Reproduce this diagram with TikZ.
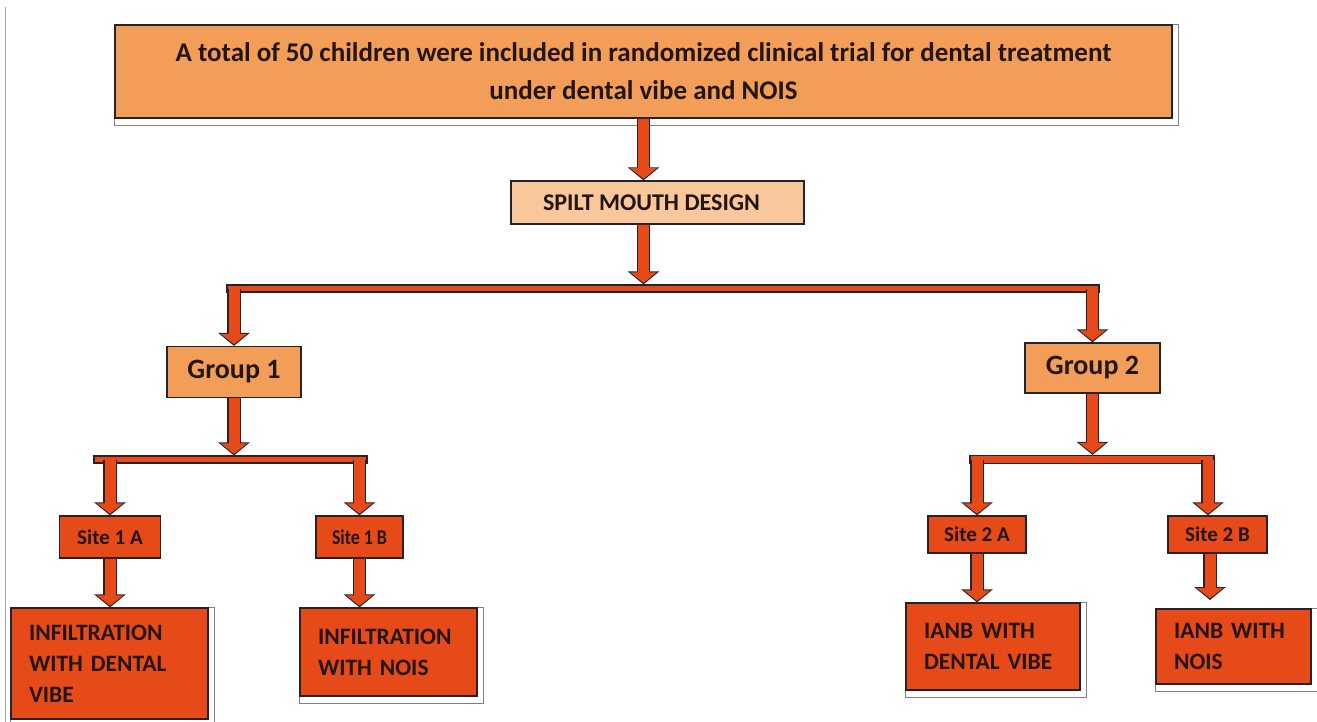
\documentclass[tikz,border=0pt]{standalone}
\usepackage{fontspec}
\setmainfont{Carlito}
\usetikzlibrary{arrows.meta,backgrounds}

\definecolor{boxorange}{RGB}{243,158,88}
\definecolor{boxpeach}{RGB}{249,199,156}
\definecolor{boxred}{RGB}{229,74,24}
\definecolor{edgeline}{RGB}{38,34,40}
\definecolor{framegray}{RGB}{128,128,134}
\definecolor{textdark}{RGB}{35,22,18}

\newcommand{\leaffont}{\fontsize{23.5}{31}\selectfont\bfseries}

\begin{document}
\begin{tikzpicture}[
    x=1pt, y=-1pt,
    every node/.style={font=\bfseries, text=textdark},
    box/.style={draw=edgeline, line width=1.3pt, inner sep=0pt},
    titlebox/.style={box, fill=boxorange, align=center,
        font=\fontsize{27}{38}\selectfont\bfseries},
    designbox/.style={box, fill=boxpeach, font=\fontsize{24}{28}\selectfont\bfseries},
    groupbox/.style={box, fill=boxorange, font=\fontsize{28}{32}\selectfont\bfseries},
    sitebox/.style={box, fill=boxred, font=\fontsize{21}{25}\selectfont\bfseries},
    leafbox/.style={box, fill=boxred, align=left, inner xsep=18pt, font=\leaffont},
    barbox/.style={box, fill=boxred, line width=1.2pt},
    framebox/.style={draw=framegray, fill=white, line width=1pt},
    blockarrow/.style={draw=boxred, line width=11pt,
        -{Triangle[width=26pt,length=10.5pt]}, shorten >=1.6pt,
        preaction={draw=edgeline, line width=13.6pt,
            -{Triangle[width=31pt,length=13pt]}, shorten >=0pt}},
]
\useasboundingbox (0,0) rectangle (1317,722);

% ---- column x-coordinates ----
\def\xmid{643.5}  % title box and split box arrows
\def\xgA{234}     % Group 1
\def\xgB{1092.5}  % Group 2
\def\xsAA{110}    % Site 1 A
\def\xsAB{359.5}  % Site 1 B
\def\xsBA{977}    % Site 2 A
\def\xsBB{1217.5} % Site 2 B

% ---- row y-coordinates ----
\def\ytop{71.5}
\def\ydes{202.5}
\def\ybarA{288.5}
\def\ygrp{372}
\def\ybarB{459.5}
\def\ysite{536}

% page edge line
\draw[framegray!70, line width=0.8pt] (5,7) -- (5,722);

% ---- title and design ----
\node[titlebox, minimum width=1057pt, minimum height=93pt] (top) at (\xmid,\ytop)
    {A total of 50 children were included in randomized clinical trial for dental treatment\\
     under dental vibe and NOIS};
\node[designbox, minimum width=293pt, minimum height=43pt] (design) at (657.5,\ydes)
    {\hspace*{-12pt}SPILT MOUTH DESIGN};

% ---- bars ----
\node[barbox, minimum width=872pt, minimum height=7pt] (barA) at (663,\ybarA) {};
\node[barbox, minimum width=273pt, minimum height=7pt] (barB) at (230.5,\ybarB) {};
\node[barbox, minimum width=244pt, minimum height=8pt] (barC) at (1092,\ybarB) {};

% ---- groups ----
\node[groupbox, minimum width=134pt, minimum height=51pt] (g1) at (\xgA,\ygrp) {Group 1};
\node[groupbox, minimum width=135pt, minimum height=50pt] (g2) at (\xgB,368) {Group 2};

% ---- sites ----
\node[sitebox, minimum width=101pt, minimum height=42pt] (s1a) at (\xsAA,\ysite+1) {Site 1 A};
\node[sitebox, minimum width=87pt, minimum height=42pt] (s1b) at (\xsAB,\ysite+1)
    {\addfontfeature{FakeStretch=0.85}Site 1 B};
\node[sitebox, minimum width=98pt, minimum height=37pt] (s2a) at (\xsBA,\ysite-1.5) {Site 2 A};
\node[sitebox, minimum width=99pt, minimum height=37pt] (s2b) at (\xsBB,\ysite-1.5) {Site 2 B};

% ---- treatments ----
\node[leafbox, text width=161pt, minimum height=111pt] (b1a) at (109.5,663.5)
    {INFILTRATION\\ WITH DENTAL\\ VIBE};
\node[leafbox, text width=141pt, minimum height=88pt] (b1b) at (388.5,652)
    {INFILTRATION\\ WITH NOIS};
\node[leafbox, text width=138pt, minimum height=87pt] (b2a) at (993,646.5)
    {IANB WITH\\ DENTAL VIBE};
\node[leafbox, text width=119pt, minimum height=75pt] (b2b) at (1233.5,646.5)
    {IANB WITH\\ NOIS};

% ---- shadow frames ----
\begin{scope}[on background layer]
\foreach \n in {top,b1a,b1b,b2a,b2b}
    \draw[framebox] (\n.north west) rectangle ([shift={(6,7)}]\n.south east);
\end{scope}

% ---- arrows ----
\coordinate (col2b) at (1208,0);
\coordinate (tip2b) at (1210,600);
\draw[blockarrow] (top.south) -- (top.south |- design.north);
\draw[blockarrow] (design.south -| top.south) -- (top.south |- barA.north);
\draw[blockarrow] (barA.center -| g1.north) -- (g1.north);
\draw[blockarrow] (barA.center -| g2.north) -- (g2.north);
\draw[blockarrow] (g1.south) -- (g1.south |- barB.north);
\draw[blockarrow] (g2.south) -- (g2.south |- barC.north);
\draw[blockarrow] (barB.center -| s1a.north) -- (s1a.north);
\draw[blockarrow] (barB.center -| s1b.north) -- (s1b.north);
\draw[blockarrow] (barC.center -| s2a.north) -- (s2a.north);
\draw[blockarrow] (barC.center -| col2b) -- (col2b |- s2b.north);
\draw[blockarrow] (s1a.south) -- (s1a.south |- b1a.north);
\draw[blockarrow] (s1b.south) -- (s1b.south |- b1b.north);
\draw[blockarrow] (s2a.south) -- (s2a.south |- b2a.north);
\draw[blockarrow] (s2b.south -| tip2b) -- (tip2b);

\end{tikzpicture}
\end{document}
